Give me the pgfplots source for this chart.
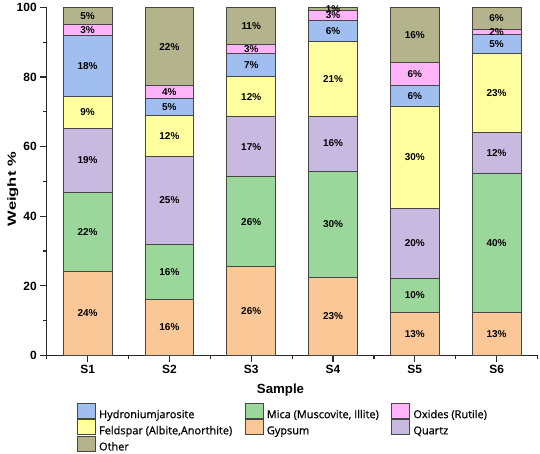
\documentclass[border=0pt]{standalone}
\usepackage{pgfplots}
\pgfplotsset{compat=1.18}
\usepackage{pgfplotstable}
\usepackage{fontspec}
\setmainfont{Liberation Sans}
\newfontfamily\osans[FakeBold=0.8]{Open Sans}
\definecolor{cGyp}{RGB}{250,200,150}
\definecolor{cMica}{RGB}{155,215,155}
\definecolor{cQtz}{RGB}{200,185,225}
\definecolor{cFeld}{RGB}{255,255,160}
\definecolor{cHyd}{RGB}{160,190,240}
\definecolor{cOxi}{RGB}{255,180,250}
\definecolor{cOth}{RGB}{180,180,140}
\definecolor{cEdge}{RGB}{70,70,70}
\definecolor{cAxis}{RGB}{40,40,40}

\pgfplotstableread{
x Gyp Mica Qtz Feld Hyd Oxi Oth
0 24.3 22.5 18.5 9.1 17.5 3.3 4.8
1 16.2 15.8 25.3 11.6 5.0 3.6 22.5
2 25.5 25.9 17.2 11.5 6.7 2.6 10.6
3 22.5 30.5 15.8 21.4 6.2 2.8 0.8
4 12.4 9.8 20.1 29.4 5.8 6.6 15.9
5 12.4 40.0 11.7 22.7 5.5 1.4 6.3
}\data

\pgfplotstableread{
x y lab
0 12.15 24
0 35.55 22
0 56.05 19
0 69.85 9
0 83.15 18
0 93.55 3
0 97.6 5
1 8.1 16
1 24.1 16
1 44.65 25
1 63.1 12
1 71.4 5
1 75.7 4
1 88.75 22
2 12.75 26
2 38.45 26
2 60.0 17
2 74.35 12
2 83.45 7
2 88.1 3
2 94.7 11
3 11.25 23
3 37.75 30
3 60.9 16
3 79.5 21
3 93.3 6
3 97.8 3
3 99.6 1
4 6.2 13
4 17.3 10
4 32.25 20
4 57.0 30
4 74.6 6
4 80.8 6
4 92.05 16
5 6.2 13
5 32.4 40
5 58.25 12
5 75.45 23
5 89.55 5
5 93.0 2
5 96.85 6
}\labels

\begin{document}
\begin{tikzpicture}
\path[use as bounding box] (0,0) rectangle (540bp,454bp);
\begin{axis}[
  at={(46.7bp,98.5bp)}, anchor=south west,
  x=81.8bp, y=3.48bp,
  xmin=-0.5, xmax=5.5, ymin=0, ymax=100,
  ybar stacked, bar width=48.7bp,
  axis lines*=left,
  axis line style={cAxis, line width=1.3bp},
  tick align=outside,
  major tick length=6.5bp, minor tick length=4bp,
  tick style={cAxis, line width=1.2bp},
  xtick={0,...,5}, xticklabels={S1,S2,S3,S4,S5,S6},
  minor xtick={-0.5,0.5,...,5.5},
  ytick={0,20,...,100}, minor ytick={10,30,...,90},
  /pgf/number format/assume math mode=true,
  ticklabel style={font=\bfseries\fontsize{12}{14}\selectfont},
  xlabel={Sample},
  xlabel style={font=\bfseries\fontsize{13.3}{15}\selectfont, at={(axis description cs:0.4764,0)}, anchor=base, yshift=-38.5bp},
  ylabel={\scalebox{1.4}[1]{Weight \%}},
  ylabel style={font=\bfseries\fontsize{11.8}{13}\selectfont, at={(axis description cs:-0.0626,0.478)}, anchor=base},
  every axis plot/.append style={draw=cEdge, line width=0.8bp},
  legend image code/.code={\draw[#1, draw=cEdge, line width=0.8bp] (0bp,-3.3bp) rectangle (18bp,11.7bp);},
  legend style={draw=none, fill=none, inner sep=0pt, outer sep=0pt,
    at={(axis description cs:0.0617,-0.1374)}, anchor=north west,
    font=\osans\fontsize{11}{13}\selectfont, row sep=-1.2bp,
    nodes={inner sep=0pt, outer sep=0pt, text height=8bp, text depth=2.5bp},
    /tikz/every odd column/.append style={column sep=3.3bp},
    /tikz/every even column/.append style={column sep=12.5bp}},
  legend columns=3, legend cell align=left,
]
\addplot[fill=cGyp, forget plot] table[x=x, y=Gyp]{\data};
\addplot[fill=cMica, forget plot] table[x=x, y=Mica]{\data};
\addplot[fill=cQtz, forget plot] table[x=x, y=Qtz]{\data};
\addplot[fill=cFeld, forget plot] table[x=x, y=Feld]{\data};
\addplot[fill=cHyd, forget plot] table[x=x, y=Hyd]{\data};
\addplot[fill=cOxi, forget plot] table[x=x, y=Oxi]{\data};
\addplot[fill=cOth, forget plot] table[x=x, y=Oth]{\data};
\addlegendimage{fill=cHyd}
\addlegendentry{Hydroniumjarosite}
\addlegendimage{fill=cMica}
\addlegendentry{Mica (Muscovite, Illite)}
\addlegendimage{fill=cOxi}
\addlegendentry{Oxides (Rutile)}
\addlegendimage{fill=cFeld}
\addlegendentry{Feldspar (Albite,Anorthite)}
\addlegendimage{fill=cGyp}
\addlegendentry{Gypsum}
\addlegendimage{fill=cQtz}
\addlegendentry{Quartz}
\addlegendimage{fill=cOth}
\addlegendentry{Other}
\end{axis}
\begin{axis}[
  at={(46.7bp,98.5bp)}, anchor=south west,
  x=81.8bp, y=3.48bp,
  xmin=-0.5, xmax=5.5, ymin=0, ymax=100,
  hide axis, clip=false,
]
\addplot[draw=none, mark=none, nodes near coords={\pgfplotspointmeta\%},
  point meta=explicit symbolic,
  every node near coord/.append style={anchor=center, font=\bfseries\fontsize{10}{12}\selectfont, text=black}]
  table[x=x, y=y, meta=lab]{\labels};
\end{axis}
\end{tikzpicture}
\end{document}
